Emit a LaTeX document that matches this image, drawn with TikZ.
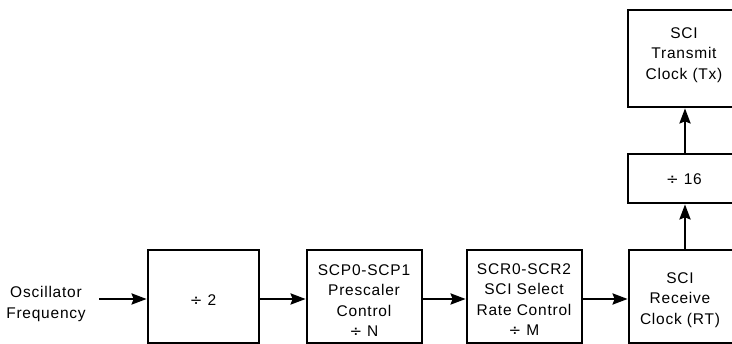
\documentclass[tikz,border=0pt]{standalone}
\usepackage{fontspec}
\setmainfont{Liberation Sans}[LetterSpace=5]
\newfontfamily\dvfont{DejaVu Sans}
\usetikzlibrary{arrows.meta}
\newcommand{\dv}{{\dvfont\fontsize{15}{20}\selectfont ÷}}
\tikzset{
  blk/.style={draw=black, line width=2.7pt, rectangle, inner sep=0pt},
  lbl/.style={align=center, inner sep=0pt, font=\fontsize{15.5}{20.5}\selectfont},
  arr/.style={line width=2.7pt, -{Stealth[length=15pt, width=11pt, inset=2pt]}},
}
\begin{document}
\begin{tikzpicture}[x=1pt,y=-1pt]
\useasboundingbox (0,0) rectangle (732,344);
\clip (0,0) rectangle (732,344);
% boxes
\node[blk, minimum width=111pt, minimum height=93pt] (b1) at (203.5,296.5) {};
\node[blk, minimum width=115pt, minimum height=93pt] (b2) at (364.5,296.5) {};
\node[blk, minimum width=115pt, minimum height=93pt] (b3) at (524.5,296.5) {};
\node[blk, minimum width=118pt, minimum height=93pt] (b4) at (688,296.5) {};
\node[blk, minimum width=118pt, minimum height=49pt] (b16) at (687,178.5) {};
\node[blk, minimum width=118pt, minimum height=97pt] (btx) at (687,58.5) {};
% labels
\node[lbl] (osc) at (46,304) {Oscillator\\Frequency};
\node[lbl] (t1) at (203,300) {\dv\ 2};
\node[lbl] (t2) at (364,300.5) {SCP0-SCP1\\Prescaler\\Control\\\dv\ N};
\node[lbl] (t3) at (524,299.5) {SCR0-SCR2\\SCI Select\\Rate Control\\\dv\ M};
\node[lbl] (t4) at (680,300) {SCI\\Receive\\Clock (RT)};
\node[lbl] (t16) at (684,179) {\dv\ 16};
\node[lbl] (ttx) at (684,55) {SCI\\Transmit\\Clock (Tx)};
\coordinate (ax) at (685,0);
\coordinate (oscout) at (99,299);
% connectors
\draw[arr] (oscout) -- (oscout -| b1.west);
\draw[arr] (b1.east |- oscout) -- (b2.west |- oscout);
\draw[arr] (b2.east |- oscout) -- (b3.west |- oscout);
\draw[arr] (b3.east |- oscout) -- (b4.west |- oscout);
\draw[arr] (b4.north -| ax) -- (b16.south -| ax);
\draw[arr] (b16.north -| ax) -- (btx.south -| ax);
\end{tikzpicture}
\end{document}
